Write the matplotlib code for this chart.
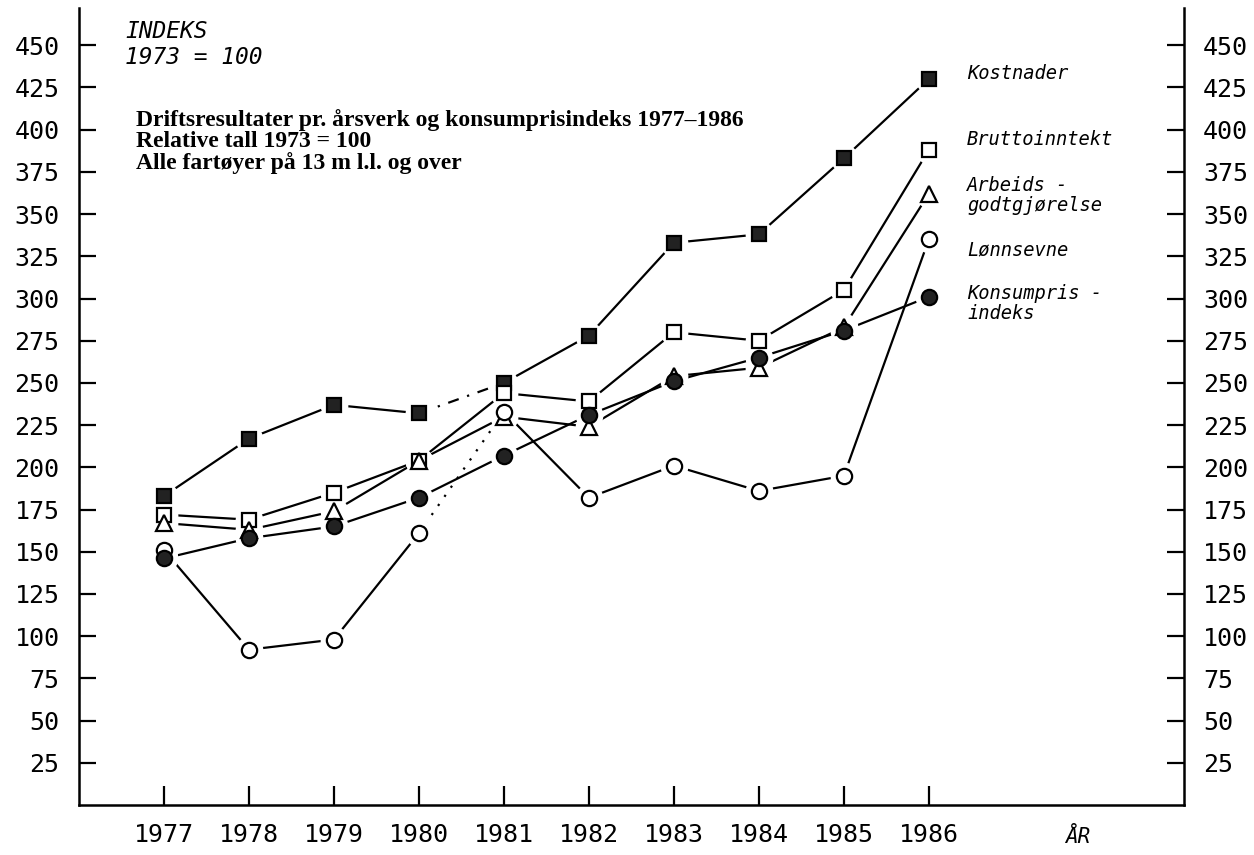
import matplotlib
matplotlib.use("Agg")
from matplotlib import pyplot as plt

years = [1977, 1978, 1979, 1980, 1981, 1982, 1983, 1984, 1985, 1986]
kostnader = [183, 217, 237, 232, 250, 278, 333, 338, 383, 430]
bruttoinntekt = [172, 169, 185, 204, 244, 239, 280, 275, 305, 388]
arbeidsgodtgj = [167, 163, 174, 204, 230, 224, 254, 259, 283, 362]
lonnsevne = [151, 92, 98, 161, 233, 182, 201, 186, 195, 335]
konsumpris = [146, 158, 165, 182, 207, 231, 251, 265, 281, 301]

series_names = ["Kostnader", "Bruttoinntekt", "Arbeids -\ngodtgjørelse",
                "Lønnsevne", "Konsumpris -\nindeks"]
label_y = [433, 394, 361, 329, 297]
yticks = list(range(25, 451, 25))

# marker, face colour, broken (dotted) segment between 1980 and 1981
styles = [("s", "#222222", (0, (5, 4, 1, 4))),
          ("s", "white", None),
          ("^", "white", None),
          ("o", "white", (0, (1, 4))),
          ("o", "#222222", None)]

mono = "DejaVu Sans Mono"
fig = plt.figure(figsize=(12.54, 8.55), dpi=100)
ax = fig.add_axes([0.063, 0.0585, 0.881, 0.932])

all_series = [kostnader, bruttoinntekt, arbeidsgodtgj, lonnsevne, konsumpris]
for vals, (mk, fc, dotted) in zip(all_series, styles):
    for i in range(len(years) - 1):
        ls = "-"
        if dotted is not None and years[i] == 1980:
            ls = dotted
        ax.plot(years[i:i + 2], vals[i:i + 2], color="black", lw=1.6,
                ls=ls, zorder=1)
    # white halo so lines stop short of the markers
    ax.plot(years, vals, ls="none", marker="o", ms=20, mfc="white",
            mec="none", zorder=2)

for vals, (mk, fc, dotted) in zip(all_series, styles):
    ms = 10 if mk == "s" else 11
    ax.plot(years, vals, ls="none", marker=mk, ms=ms, mfc=fc, mec="black",
            mew=1.6, zorder=3)

for name, y in zip(series_names, label_y):
    ax.text(1986.45, y, name, family=mono, style="italic", fontsize=13.5,
            va="center", ha="left", linespacing=1.05)

ax.text(1976.54, 450.5, "INDEKS\n1973 = 100", family=mono, style="italic",
        fontsize=16.5, va="center", ha="left", linespacing=1.15)

title_lines = ["Driftsresultater pr. årsverk og konsumprisindeks 1977–1986",
               "Relative tall 1973 = 100",
               "Alle fartøyer på 13 m l.l. og over"]
for k, line in enumerate(title_lines):
    ax.text(1976.67, 405.6 - k * 12.7, line, family="Liberation Serif",
            weight="bold", fontsize=17, va="center", ha="left")

ax.text(1987.75, -19, "ÅR", family=mono, style="italic", fontsize=15,
        va="center", ha="center", clip_on=False)

ax.set_xlim(1976, 1989)
ax.set_ylim(0, 472)
ax.set_xticks(years)
ax.set_xticklabels([str(y) for y in years], family=mono, fontsize=18)
ax.set_yticks(yticks)
ax.set_yticklabels([str(v) for v in yticks], family=mono, fontsize=18)
ax.tick_params(axis="x", direction="in", length=14, width=1.6, pad=13)
ax.tick_params(axis="y", direction="in", length=12, width=1.6, pad=14,
               left=True, right=True, labelleft=True, labelright=True)
for t in ax.get_yticklabels():
    t.set_family(mono)

ax.spines["top"].set_visible(False)
for s in ["left", "right", "bottom"]:
    ax.spines[s].set_linewidth(1.8)

fig.savefig("out.png", dpi=100)
